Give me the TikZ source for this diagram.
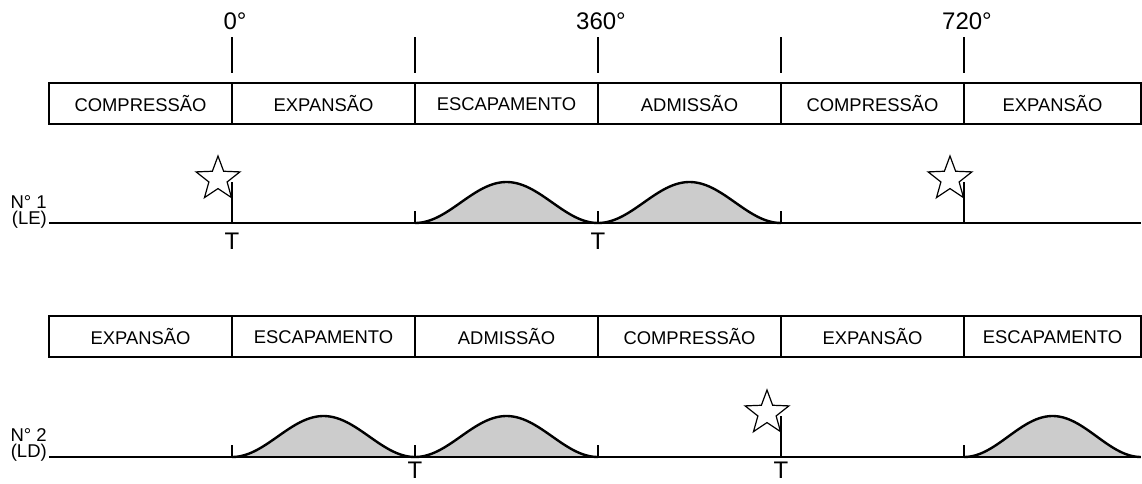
\documentclass[tikz,border=0pt]{standalone}
\usepackage{fontspec}
\setmainfont{Liberation Sans}
\usetikzlibrary{shapes.geometric}

\tikzset{
  stroke/.style={line width=2.4pt},
  thin/.style={line width=1.4pt},
  cell/.style={font=\fontsize{18.4}{18.4}\selectfont},
  big/.style={font=\fontsize{24}{24}\selectfont},
  cyl/.style={font=\fontsize{18.5}{16.5}\selectfont, align=right, anchor=east, inner sep=0pt},
  spark/.style={star, star points=5, star point ratio=2.4, draw, line width=1.2pt,
    minimum size=46pt, inner sep=0pt},
}

% bell-shaped lift curve: start x, end x, baseline y
\newcommand{\lobe}[3]{
  \fill[black!20] plot[domain=0:1, samples=60] ({#1+(#2-#1)*\x},{#3-20.5*(1-cos(360*\x))}) -- cycle;
  \draw[stroke] plot[domain=0:1, samples=60] ({#1+(#2-#1)*\x},{#3-20.5*(1-cos(360*\x))});
}

\begin{document}
\begin{tikzpicture}[x=1pt, y=-1pt]
\useasboundingbox (0,0) rectangle (1142,483);

% Degree scale
\node[big] (d0) at (235,21) {0°};
\node[big] (d360) at (601,21) {360°};
\node[big] (d720) at (967,21) {720°};
\draw[thin] (232,37) -- (232,73);
\draw[thin] (415,37) -- (415,73);
\draw[thin] (598,37) -- (598,73);
\draw[thin] (781,37) -- (781,73);
\draw[thin] (964,37) -- (964,73);

% Cylinder 1 strokes
\draw[stroke] (49,83) rectangle (1141,124);
\foreach \xx in {232,415,598,781,964} \draw[thin] (\xx,83) -- (\xx,124);
\node[cell] (a1) at (140.5,104) {COMPRESSÃO};
\node[cell] (a2) at (323.5,104) {EXPANSÃO};
\node[cell] (a3) at (506.5,104) {ESCAPAMENTO};
\node[cell] (a4) at (689.5,104) {ADMISSÃO};
\node[cell] (a5) at (872.5,104) {COMPRESSÃO};
\node[cell] (a6) at (1052.5,104) {EXPANSÃO};

% Cylinder 1 valve lift
\lobe{415}{598}{223}
\lobe{598}{781}{223}
\node[cyl] (c1) at (47,212) {N° 1\\(LE)};
\draw[stroke] (49,223) -- (1141,223);
\foreach \xx in {415,598,781} \draw[thin] (\xx,211) -- (\xx,223);
\node[spark] (s1) at (218,179) {};
\node[spark] (s2) at (950,179) {};
\coordinate (p1) at (232,182);
\coordinate (p2) at (964,182);
\draw[thin] (p1) -- (232,223);
\draw[thin] (p2) -- (964,223);
\node[big] (t1) at (232,241) {T};
\node[big] (t2) at (598,241) {T};

% Cylinder 2 strokes
\draw[stroke] (49,316) rectangle (1141,357);
\foreach \xx in {232,415,598,781,964} \draw[thin] (\xx,316) -- (\xx,357);
\node[cell] (b1) at (140.5,337) {EXPANSÃO};
\node[cell] (b2) at (323.5,337) {ESCAPAMENTO};
\node[cell] (b3) at (506.5,337) {ADMISSÃO};
\node[cell] (b4) at (689.5,337) {COMPRESSÃO};
\node[cell] (b5) at (872.5,337) {EXPANSÃO};
\node[cell] (b6) at (1052.5,337) {ESCAPAMENTO};

% Cylinder 2 valve lift
\lobe{232}{415}{457}
\lobe{415}{598}{457}
\lobe{964}{1141}{457}
\node[cyl] (c2) at (47,445) {N° 2\\(LD)};
\draw[stroke] (49,457) -- (1141,457);
\foreach \xx in {232,415,598,964} \draw[thin] (\xx,445) -- (\xx,457);
\node[spark] (s3) at (767,413) {};
\coordinate (p3) at (781,416);
\draw[thin] (p3) -- (781,457);
\node[big] (t3) at (415,470) {T};
\node[big] (t4) at (781,470) {T};

\end{tikzpicture}
\end{document}
